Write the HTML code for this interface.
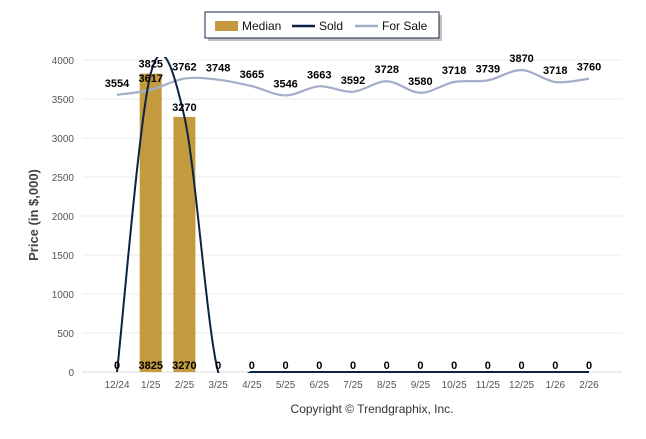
<!DOCTYPE html>
<html><head><meta charset="utf-8"><style>
body{margin:0;background:#fff;}
svg text{font-family:"Liberation Sans",Arial,sans-serif;}
</style></head><body>
<svg width="646" height="434" viewBox="0 0 646 434">
<defs><clipPath id="pc"><rect x="100" y="57" width="522" height="316"/></clipPath></defs>
<g id="grid"></g>
<g id="bars"></g>
<g id="lines" clip-path="url(#pc)"></g>
<g id="labels"></g>
<text x="38" y="215" transform="rotate(-90 38 215)" text-anchor="middle" font-size="13" font-weight="bold" fill="#444">Price (in $,000)</text>
<text x="372" y="413" text-anchor="middle" font-size="12" fill="#333">Copyright © Trendgraphix, Inc.</text>
<g>
<rect x="208" y="15" width="234" height="26" fill="#888" opacity="0.5"/>
<rect x="205" y="12" width="234" height="26" fill="#fff" stroke="#1a2a4a" stroke-width="1"/>
<rect x="215" y="21" width="23" height="10" fill="#c39a3e"/>
<text x="242" y="30" font-size="12" fill="#111">Median</text>
<line x1="292" y1="26" x2="315" y2="26" stroke="#0c2344" stroke-width="2.5"/>
<text x="319" y="30" font-size="12" fill="#111">Sold</text>
<line x1="355" y1="26" x2="378" y2="26" stroke="#a4aec9" stroke-width="2.5"/>
<text x="382" y="30" font-size="12" fill="#111">For Sale</text>
</g>
</svg>
<script>
const categories=["12/24","1/25","2/25","3/25","4/25","5/25","6/25","7/25","8/25","9/25","10/25","11/25","12/25","1/26","2/26"];
const median=[null,3825,3270,null,null,null,null,null,null,null,null,null,null,null,null];
const sold=[0,3825,3270,0,0,0,0,0,0,0,0,0,0,0,0];
const forSale=[3554,3617,3762,3748,3665,3546,3663,3592,3728,3580,3718,3739,3870,3718,3760];
const yTicks=[0,500,1000,1500,2000,2500,3000,3500,4000];
const NS="http://www.w3.org/2000/svg";
function xs(i){return 117+i*(589-117)/(categories.length-1);}
function ys(v){return 372-v*312/4000;}
function mk(t,a,p){const e=document.createElementNS(NS,t);for(const k in a)e.setAttribute(k,a[k]);(p||document.querySelector('svg')).appendChild(e);return e;}
const grid=document.getElementById('grid'),bars=document.getElementById('bars'),lines=document.getElementById('lines'),labels=document.getElementById('labels');
yTicks.forEach(v=>{
 const l=mk('line',{x1:82,x2:622,y1:ys(v),y2:ys(v),stroke:v===0?'#ddd':'#ebebeb','stroke-width':1},grid);
 
 
 const t=mk('text',{x:74,y:ys(v)+4,'text-anchor':'end','font-size':10,fill:'#555'},grid);
 t.textContent=v;
 
 
});
categories.forEach((c,i)=>{
 const t=mk('text',{x:xs(i),y:388,'text-anchor':'middle','font-size':10,fill:'#555'},grid);
 t.textContent=c;
 
 
});
median.forEach((v,i)=>{
 if(v==null)return;
 const r=mk('rect',{x:xs(i)-11,y:ys(v),width:22,height:ys(0)-ys(v),fill:'#c39a3e'},bars);
 
 
});
function spline(vals){
 const p=vals.map((v,i)=>[xs(i),ys(v)]);let d='M'+p[0][0]+','+p[0][1];
 for(let i=0;i<p.length-1;i++){
  const p0=p[Math.max(i-1,0)],p1=p[i],p2=p[i+1],p3=p[Math.min(i+2,p.length-1)];
  const c1=[p1[0]+(p2[0]-p0[0])/6,p1[1]+(p2[1]-p0[1])/6],c2=[p2[0]-(p3[0]-p1[0])/6,p2[1]-(p3[1]-p1[1])/6];
  d+=' C'+c1+' '+c2+' '+p2;
 }
 return d;
}
const fs=mk('path',{d:spline(forSale),fill:'none',stroke:'#a4aec9','stroke-width':2.2},lines);


const sl=mk('path',{d:spline(sold),fill:'none',stroke:'#0c2344','stroke-width':2},lines);


function lab(x,y,txt,name){const t=mk('text',{x:x,y:y,'text-anchor':'middle','font-size':11,'font-weight':'bold',fill:'#000'},labels);t.textContent=txt;
 
 }
forSale.forEach((v,i)=>lab(xs(i),ys(v)-8,v,'for-sale-value'));
median.forEach((v,i)=>{if(v!=null)lab(xs(i),ys(v)-6,v,'median-value');});
sold.forEach((v,i)=>lab(xs(i),369,v,'sold-value'));
</script>
</body></html>
